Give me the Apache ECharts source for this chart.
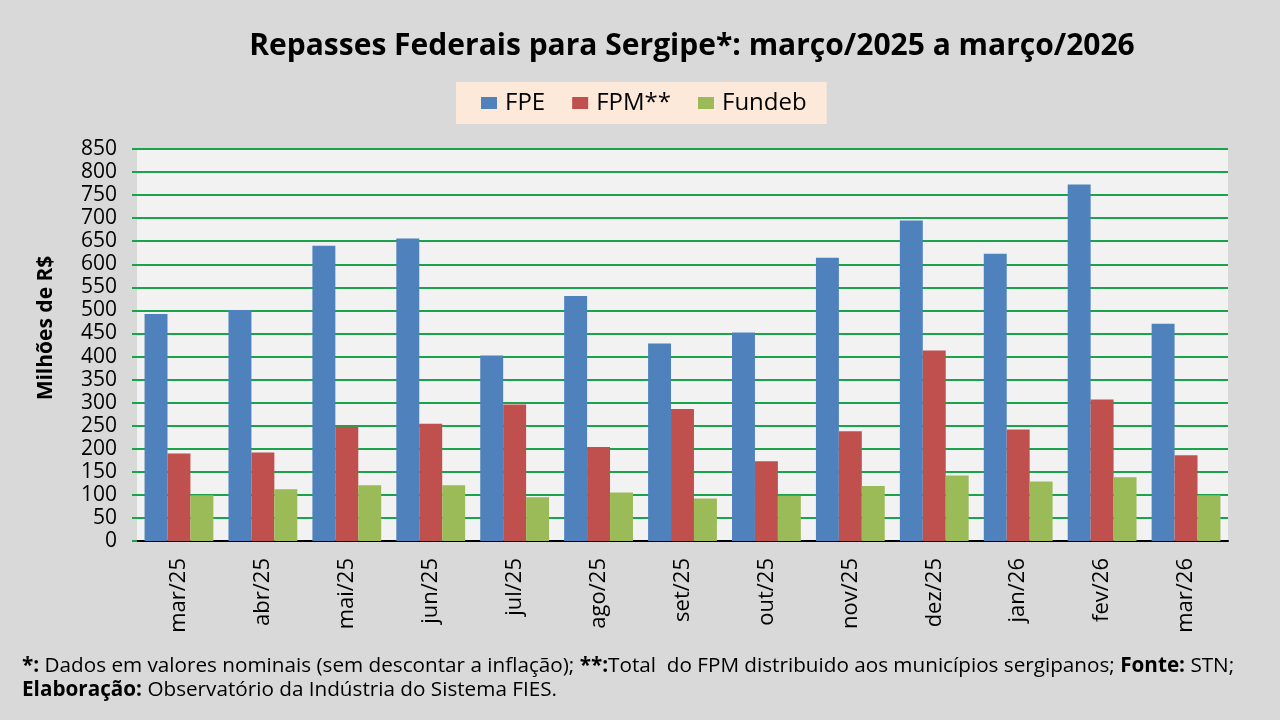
<!DOCTYPE html>
<html>
<head>
<meta charset="utf-8">
<script src="https://cdn.jsdelivr.net/npm/echarts@6/dist/echarts.min.js"></script>
<style>
  html, body { margin: 0; padding: 0; background: #d9d9d9; }
  #chart { width: 1280px; height: 720px; }
</style>
</head>
<body>
<div id="chart"></div>
<script>
const meses = ['mar/25', 'abr/25', 'mai/25', 'jun/25', 'jul/25', 'ago/25', 'set/25',
  'out/25', 'nov/25', 'dez/25', 'jan/26', 'fev/26', 'mar/26'];
const fpe = [492, 501, 640, 656, 402, 531, 428, 452, 614, 695, 623, 773, 471];
const fpm = [190, 192, 248, 254, 296, 204, 286, 173, 238, 413, 242, 307, 186];
const fundeb = [99, 112, 121, 121, 95, 105, 92, 98, 119, 142, 129, 138, 99];

const fonte = '"Open Sans", sans-serif';
const chart = echarts.init(document.getElementById('chart'));

const option = {
  backgroundColor: '#d9d9d9',
  textStyle: { fontFamily: fonte },
  title: {
    text: 'Repasses Federais para Sergipe*: março/2025 a março/2026',
    left: 687, top: 26, textAlign: 'center',
    textStyle: { fontSize: 30, fontWeight: 'bold', color: '#000', fontFamily: fonte }
  },
  legend: {
    top: 82, left: 456,
    backgroundColor: '#fde9d9',
    padding: [9, 20, 9, 25],
    itemWidth: 16, itemHeight: 12, itemGap: 27,
    icon: 'rect',
    textStyle: { fontSize: 24, color: '#000', fontFamily: fonte, padding: [0, 0, 0, 3] },
    data: ['FPE', 'FPM**', 'Fundeb']
  },
  grid: {
    left: 137, right: 52, top: 149, bottom: 179,
    show: true, backgroundColor: '#f2f2f2', borderWidth: 0,
    containLabel: false
  },
  xAxis: {
    type: 'category',
    data: meses,
    axisLine: { lineStyle: { color: '#000', width: 2 } },
    axisTick: { lineStyle: { color: '#000', width: 2 }, length: 5 },
    axisLabel: { rotate: 90, fontSize: 22, color: '#000', margin: 17 }
  },
  yAxis: {
    type: 'value',
    min: 0, max: 850, interval: 50,
    axisLine: { show: false },
    axisTick: { show: true, length: 5, lineStyle: { color: '#1aa34a', width: 2 } },
    axisLabel: { fontSize: 21, color: '#000', margin: 20 },
    splitLine: { lineStyle: { color: '#1aa34a', width: 2 } }
  },
  series: [
    { name: 'FPE', type: 'bar', data: fpe, barGap: '0%', barCategoryGap: '18%',
      itemStyle: { color: '#4f81bd' } },
    { name: 'FPM**', type: 'bar', data: fpm, barGap: '0%', barCategoryGap: '18%',
      itemStyle: { color: '#c0504d' } },
    { name: 'Fundeb', type: 'bar', data: fundeb, barGap: '0%', barCategoryGap: '18%',
      itemStyle: { color: '#9bbb59' } }
  ],
  graphic: [
    {
      // titulo do eixo y
      type: 'text', x: 46, y: 328, rotation: Math.PI / 2,
      style: {
        text: 'Milhões de R$', font: 'bold 21px ' + fonte, fill: '#000',
        align: 'center', verticalAlign: 'middle'
      }
    },
    {
      type: 'text', left: 22, top: 656,
      style: {
        text: '{b|*:} Dados em valores nominais (sem descontar a inflação); {b|**:}Total  do FPM distribuido aos municípios sergipanos; {b|Fonte:} STN;',
        font: '20.7px ' + fonte, fill: '#000',
        rich: { b: { fontWeight: 'bold', fontSize: 20.7, fontFamily: fonte } }
      }
    },
    {
      type: 'text', left: 22, top: 680,
      style: {
        text: '{b|Elaboração:} Observatório da Indústria do Sistema FIES.',
        font: '20.7px ' + fonte, fill: '#000',
        rich: { b: { fontWeight: 'bold', fontSize: 20.7, fontFamily: fonte } }
      }
    }
  ]
};

chart.setOption(option);
</script>
</body>
</html>
